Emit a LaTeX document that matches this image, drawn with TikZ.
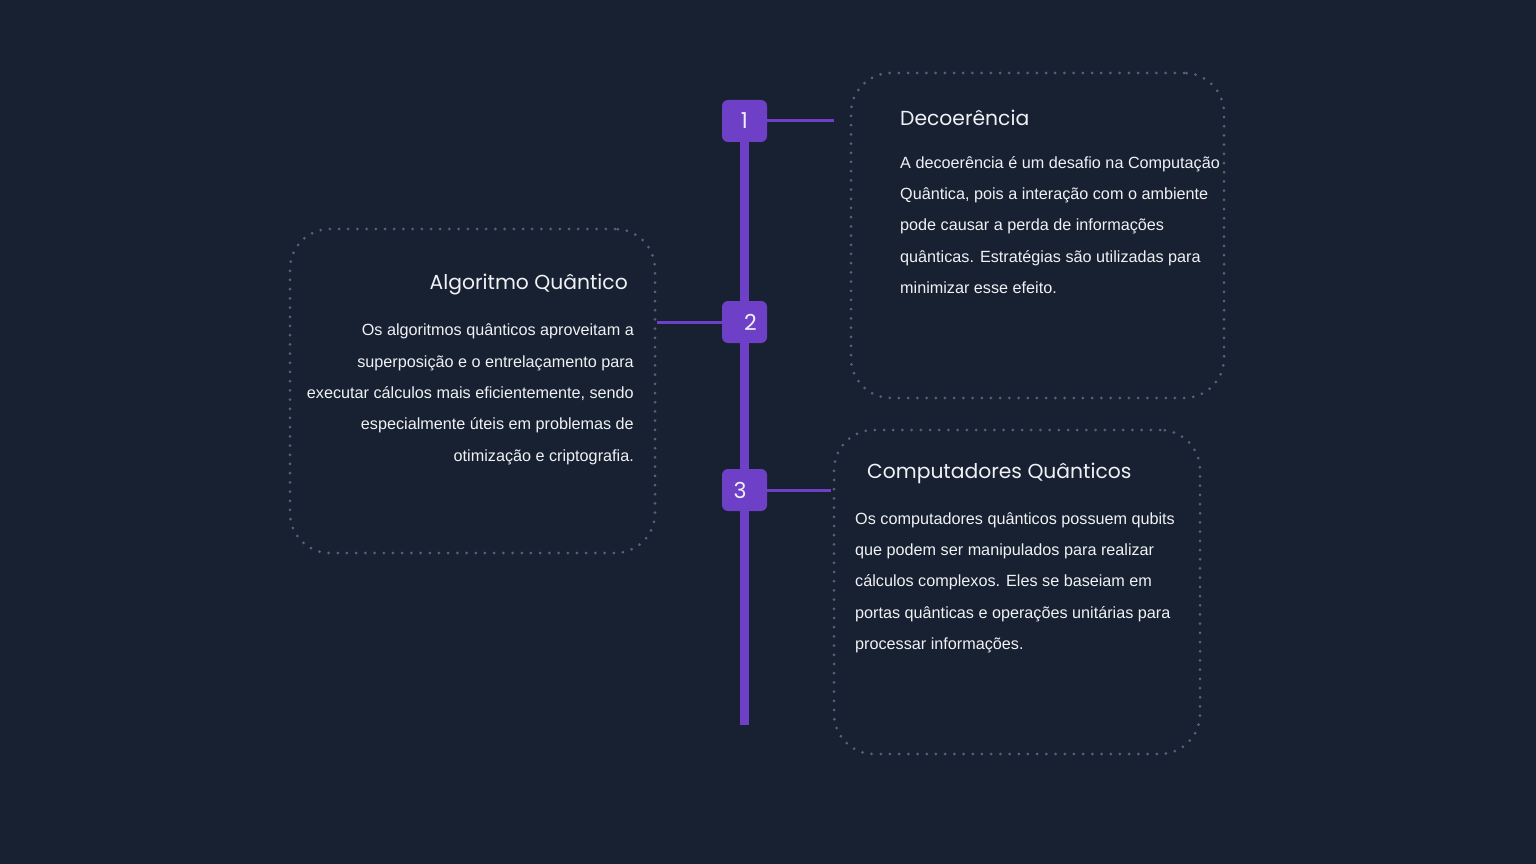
\documentclass[tikz,border=0pt]{standalone}
\usepackage{fontspec}
\setmainfont{Liberation Sans}
\newfontfamily\titlefont{Poppins}
\usetikzlibrary{positioning,backgrounds}
\definecolor{bgnavy}{RGB}{24,33,49}
\definecolor{stepviolet}{RGB}{110,64,200}
\definecolor{cardgray}{RGB}{86,99,118}
\definecolor{textwhite}{RGB}{240,241,245}
\tikzset{
  stepbox/.style={fill=stepviolet, rounded corners=6pt, minimum width=45pt,
    minimum height=42pt, inner sep=0pt, text=textwhite,
    font=\titlefont\fontsize{22}{22}\selectfont},
  card/.style={draw=cardgray, line width=3pt, dash pattern=on 0pt off 9.2pt,
    line cap=round, rounded corners=40pt, inner sep=0pt},
  cardtitle/.style={text=textwhite, font=\titlefont\fontsize{20.3}{24}\selectfont,
    inner sep=0pt},
  cardbody/.style={text=textwhite, font=\fontsize{16.2}{31.3}\selectfont,
    inner sep=0pt},
  link/.style={stepviolet, line width=3pt},
}
\begin{document}
\begin{tikzpicture}[x=1pt, y=-1pt]
    \useasboundingbox (0,0) rectangle (1536,864);

    % cards
    \node[card, minimum width=373pt, minimum height=325pt] (card1) at (1037.5,235.5) {};
    \node[card, minimum width=365pt, minimum height=324pt] (card2) at (472.5,391) {};
    \node[card, minimum width=366pt, minimum height=324pt] (card3) at (1017,592) {};

    % steps on the timeline
    \node[stepbox] (step1) at (744.5,121) {1};
    \node[stepbox] (step2) at (744.5,322) {\hspace*{12pt}2};
    \node[stepbox] (step3) at (744.5,490) {3\hspace*{9pt}};
    \coordinate (timeline-end) at (744.5,725);
    \coordinate (link1-end) at (834,121);
    \coordinate (link3-end) at (831,490);

    \begin{scope}[on background layer]
    \fill[bgnavy] (0,0) rectangle (1536,864);
    \draw[stepviolet, line width=9pt] (step1.center) -- (timeline-end);
    \end{scope}

    \draw[link] (step1.east) -- (link1-end);
    \draw[link] (step2.west -| card2.east) -- (step2.west);
    \draw[link] (step3.east) -- (link3-end);

    % texts (base = last line)
    \node[cardtitle, anchor=base west] (title1) at (900,126) {Decoerência};
    \node[cardbody, anchor=base west, align=left] (body1) at (900,293.5)
      {A decoerência é um desafio na Computação\\
       Quântica, pois a interação com o ambiente\\
       pode causar a perda de informações\\
       quânticas. Estratégias são utilizadas para\\
       minimizar esse efeito.};

    \node[cardtitle, anchor=base east] (title2) at (628,289) {Algoritmo Quântico};
    \node[cardbody, anchor=base east, align=right] (body2) at (634,461)
      {Os algoritmos quânticos aproveitam a\\
       superposição e o entrelaçamento para\\
       executar cálculos mais eficientemente, sendo\\
       especialmente úteis em problemas de\\
       otimização e criptografia.};

    \node[cardtitle, anchor=base west] (title3) at (867,478) {Computadores Quânticos};
    \node[cardbody, anchor=base west, align=left] (body3) at (855,649.5)
      {Os computadores quânticos possuem qubits\\
       que podem ser manipulados para realizar\\
       cálculos complexos. Eles se baseiam em\\
       portas quânticas e operações unitárias para\\
       processar informações.};

\end{tikzpicture}
\end{document}
